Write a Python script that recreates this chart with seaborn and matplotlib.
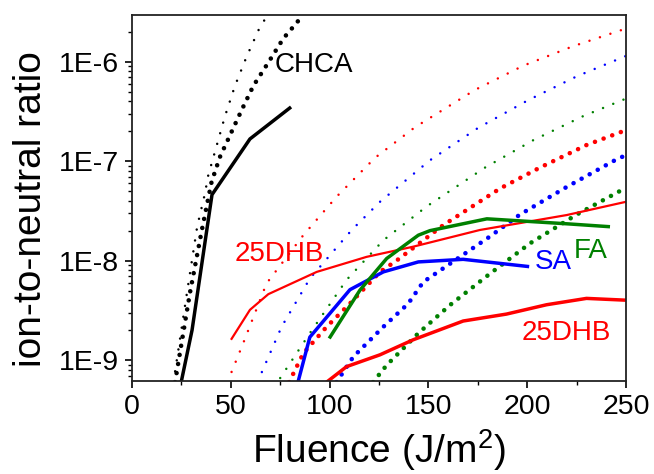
import numpy as np
import pandas as pd
import seaborn as sns
import matplotlib
matplotlib.use("Agg")
import matplotlib.pyplot as plt
from matplotlib.ticker import FuncFormatter, MultipleLocator, LogLocator

# measured curves (solid) -- fluence in J/m^2, ion-to-neutral ratio
chca_x = [24.5, 30.4, 40.5, 59.7, 80.5]
chca_y = [5.5e-10, 2.0e-9, 4.6e-8, 1.67e-7, 3.5e-7]

dhb_hi_x = [50.1, 59.7, 69.0, 93.5, 118.7, 142.3, 176.0, 220.0, 250.0]
dhb_hi_y = [1.6e-9, 3.2e-9, 4.6e-9, 7.7e-9, 1.09e-8, 1.38e-8, 2.03e-8, 2.87e-8, 3.9e-8]

dhb_lo_x = [98.0, 108.6, 125.5, 142.3, 167.6, 189.5, 209.8, 230.0, 250.0]
dhb_lo_y = [5.9e-10, 8.6e-10, 1.13e-9, 1.6e-9, 2.47e-9, 2.9e-9, 3.6e-9, 4.17e-9, 4.0e-9]

sa_x = [83.5, 90.0, 110.3, 127.2, 144.9, 167.6, 201.0]
sa_y = [5.5e-10, 1.7e-9, 5.1e-9, 7.7e-9, 9.7e-9, 1.03e-8, 8.7e-9]

fa_x = [99.8, 115.4, 128.9, 144.9, 150.8, 179.6, 220.6, 241.9]
fa_y = [1.65e-9, 5.06e-9, 1.05e-8, 1.8e-8, 2.0e-8, 2.63e-8, 2.34e-8, 2.19e-8]

# model curves (dotted): small dots and large dots
chca_sm_x = [21.0, 28.0, 33.0, 36.9, 38.6, 42.9, 47.0, 52.1, 58.0, 64.8, 68.8]
chca_sm_y = [6.0e-10, 5e-9, 2.2e-8, 4.7e-8, 7.2e-8, 1.44e-7, 2.8e-7, 5.7e-7, 1.12e-6, 2.24e-6, 2.95e-6]
chca_lg_x = [21.8, 29.3, 35.3, 40.3, 44.5, 49.6, 55.5, 61.4, 69.0, 76.6, 83.3, 86.5]
chca_lg_y = [6.0e-10, 4.7e-9, 2.0e-8, 6.2e-8, 1.1e-7, 1.82e-7, 3.26e-7, 5.7e-7, 9.8e-7, 1.71e-6, 2.45e-6, 2.95e-6]

red_sm_x = [48.3, 56.3, 68.1, 86.7, 103.6, 123.0, 143.2, 173.6, 198.0, 223.3, 250.0]
red_sm_y = [6.0e-10, 1.48e-9, 5.9e-9, 1.8e-8, 4.4e-8, 1.08e-7, 2.19e-7, 5.2e-7, 9.1e-7, 1.43e-6, 2.15e-6]
blue_sm_x = [63.5, 75.7, 90.0, 111.2, 125.5, 150.8, 175.2, 200.5, 225.0, 250.0]
blue_sm_y = [6.0e-10, 2.16e-9, 6.6e-9, 2.03e-8, 3.9e-8, 1.02e-7, 2.16e-7, 4.1e-7, 7.1e-7, 1.14e-6]
green_sm_x = [75.0, 90.0, 108.6, 127.2, 149.1, 178.6, 203.0, 228.3, 250.0]
green_sm_y = [6.6e-10, 1.86e-9, 6.4e-9, 1.6e-8, 3.5e-8, 8.6e-8, 1.62e-7, 2.83e-7, 4.25e-7]

red_lg_x = [79.5, 86.7, 98.5, 110.3, 125.5, 133.9, 157.5, 186.2, 206.4, 230.0, 250.0]
red_lg_y = [6.0e-10, 1.17e-9, 2.16e-9, 3.7e-9, 7.7e-9, 1.0e-8, 2.27e-8, 5.3e-8, 8.6e-8, 1.45e-7, 2.05e-7]
blue_lg_x = [103.5, 112.0, 127.2, 139.8, 147.4, 181.2, 196.3, 220.0, 244.4, 250.0]
blue_lg_y = [6.0e-10, 1.08e-9, 2.16e-9, 3.7e-9, 6.1e-9, 1.75e-8, 2.9e-8, 5.5e-8, 1.02e-7, 1.15e-7]
green_lg_x = [122.0, 128.9, 144.9, 160.9, 181.2, 201.4, 225.0, 250.0]
green_lg_y = [6.0e-10, 8.9e-10, 1.86e-9, 3.57e-9, 7.4e-9, 1.49e-8, 2.9e-8, 5.4e-8]

RED, BLUE, GREEN, BLACK = "#ff0000", "#0000ff", "#008000", "#000000"

sns.set_theme(style="ticks")
plt.rcParams["font.family"] = ["Liberation Sans", "DejaVu Sans"]
plt.rcParams["mathtext.fontset"] = "custom"
plt.rcParams["mathtext.rm"] = "Liberation Sans"
plt.rcParams["text.color"] = "black"
plt.rcParams["axes.labelcolor"] = "black"

fig = plt.figure(figsize=(6.54, 4.74), dpi=100)
ax = fig.add_axes([0.2018, 0.196, 0.7554, 0.772])


def draw(xs, ys, color, lw, ls="-"):
    df = pd.DataFrame({"x": xs, "y": ys})
    sns.lineplot(data=df, x="x", y="y", ax=ax, color=color, lw=lw, linestyle=ls,
                 estimator=None, sort=False, dash_capstyle="round", solid_capstyle="butt")


small = (0, (0.01, 4.4))
large = (0, (0.01, 2.0))

# dotted model curves
for xs, ys, c in [(chca_sm_x, chca_sm_y, BLACK), (red_sm_x, red_sm_y, RED),
                  (blue_sm_x, blue_sm_y, BLUE), (green_sm_x, green_sm_y, GREEN)]:
    draw(xs, ys, c, 1.8, small)
for xs, ys, c in [(chca_lg_x, chca_lg_y, BLACK), (red_lg_x, red_lg_y, RED),
                  (blue_lg_x, blue_lg_y, BLUE), (green_lg_x, green_lg_y, GREEN)]:
    draw(xs, ys, c, 3.3, large)

# measured curves
draw(dhb_hi_x, dhb_hi_y, RED, 1.6)
draw(dhb_lo_x, dhb_lo_y, RED, 2.5)
draw(sa_x, sa_y, BLUE, 2.5)
draw(fa_x, fa_y, GREEN, 2.5)
draw(chca_x, chca_y, BLACK, 2.5)

ax.set_yscale("log")
ax.set_xlim(0, 250)
ax.set_ylim(6.15e-10, 2.93e-6)

ax.xaxis.set_major_locator(MultipleLocator(50))
ax.xaxis.set_minor_locator(MultipleLocator(25))
ax.yaxis.set_major_locator(LogLocator(base=10, numticks=20))
ax.yaxis.set_minor_locator(LogLocator(base=10, subs=np.arange(2, 10), numticks=20))
ax.yaxis.set_major_formatter(FuncFormatter(lambda v, p: f"1E{int(round(np.log10(v)))}"))
ax.yaxis.set_minor_formatter(FuncFormatter(lambda v, p: ""))

ax.tick_params(which="major", direction="out", length=5, width=1.2, labelsize=20.5,
               pad=4, colors="black", labelcolor="black", top=False, right=False)
ax.tick_params(which="minor", direction="out", length=3, width=1.0, colors="black",
               top=False, right=False)
for s in ax.spines.values():
    s.set_linewidth(1.3)
    s.set_color("#222222")

ax.set_xlabel(r"Fluence (J/m$^{2}$)", fontsize=28, color="black")
ax.set_ylabel("ion-to-neutral ratio", fontsize=28, color="black")
ax.xaxis.set_label_coords(0.5, -0.125)
ax.yaxis.set_label_coords(-0.168, 0.47)

ax.text(72.4, 7.8e-7, "CHCA", color=BLACK, fontsize=20, va="baseline")
ax.text(52.1, 1.0e-8, "25DHB", color=RED, fontsize=20, va="baseline")
ax.text(204, 8.2e-9, "SA", color=BLUE, fontsize=20, va="baseline")
ax.text(223.7, 1.05e-8, "FA", color=GREEN, fontsize=20, va="baseline")
ax.text(197.2, 1.6e-9, "25DHB", color=RED, fontsize=20, va="baseline")

fig.savefig("out.png", dpi=100)
